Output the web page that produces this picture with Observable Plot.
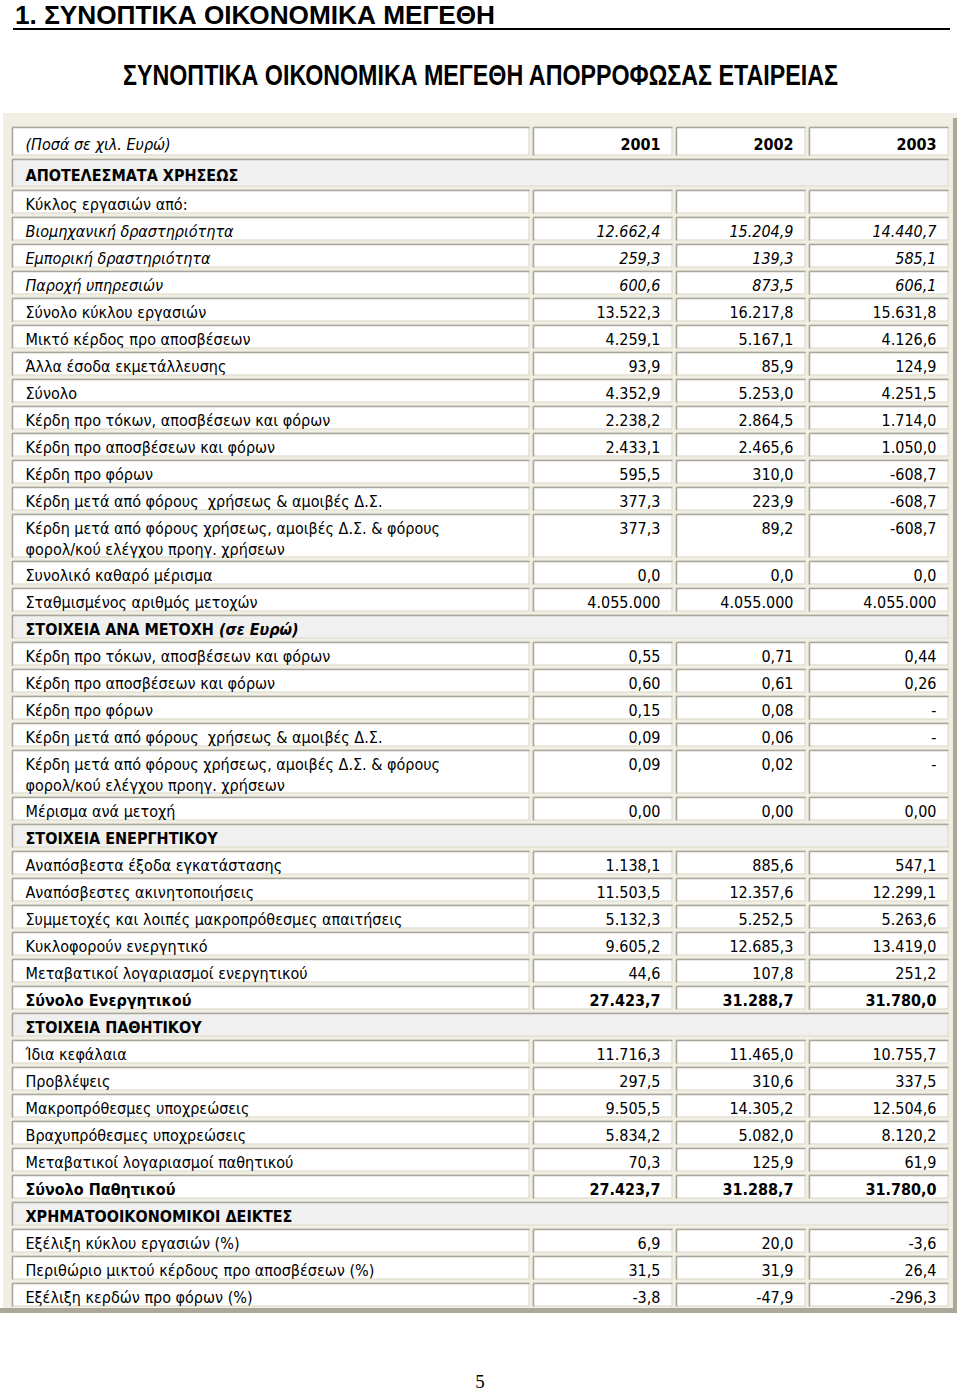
<!DOCTYPE html>
<html><head><meta charset="utf-8">
<script src="https://cdn.jsdelivr.net/npm/d3@7"></script>
<script src="https://cdn.jsdelivr.net/npm/@observablehq/plot@0.6"></script>
<style>
html,body{margin:0;padding:0;background:#fff}
body{width:960px;height:1392px;position:relative;overflow:hidden}
#title{position:absolute;left:15px;top:0px;font-family:"Liberation Sans","Arial",sans-serif;font-weight:bold;font-size:26px;line-height:30px;white-space:nowrap;color:#000;display:inline-block;transform-origin:0 0}
#rule{position:absolute;left:13px;width:937px;top:28px;height:2px;background:#000}
#subtitle{position:absolute;left:123px;top:60px;font-family:"Liberation Sans","Arial",sans-serif;font-weight:bold;font-size:30px;line-height:30px;white-space:nowrap;color:#000;display:inline-block;transform-origin:0 0}
#chart{position:absolute;left:0;top:100px}
#page{position:absolute;left:0;width:960px;text-align:center;top:1372px;font-family:"Liberation Serif",serif;font-size:19px;line-height:19px}
</style>
</head><body>
<div id="title">1. ΣΥΝΟΠΤΙΚΑ ΟΙΚΟΝΟΜΙΚΑ ΜΕΓΕΘΗ</div>
<div id="rule"></div>
<div id="subtitle">ΣΥΝΟΠΤΙΚΑ ΟΙΚΟΝΟΜΙΚΑ ΜΕΓΕΘΗ ΑΠΟΡΡΟΦΩΣΑΣ ΕΤΑΙΡΕΙΑΣ</div>
<div id="chart"></div>
<div id="page">5</div>
<script>
// ---------- data ----------
const years = ["2001", "2002", "2003"];
const labels = [
  "(Ποσά σε χιλ. Ευρώ)",
  "ΑΠΟΤΕΛΕΣΜΑΤΑ ΧΡΗΣΕΩΣ",
  "Κύκλος εργασιών από:",
  "Βιομηχανική δραστηριότητα",
  "Εμπορική δραστηριότητα",
  "Παροχή υπηρεσιών",
  "Σύνολο κύκλου εργασιών",
  "Μικτό κέρδος προ αποσβέσεων",
  "Άλλα έσοδα εκμετάλλευσης",
  "Σύνολο",
  "Κέρδη προ τόκων, αποσβέσεων και φόρων",
  "Κέρδη προ αποσβέσεων και φόρων",
  "Κέρδη προ φόρων",
  "Κέρδη μετά από φόρους\u00a0 χρήσεως & αμοιβές Δ.Σ.",
  "Κέρδη μετά από φόρους χρήσεως, αμοιβές Δ.Σ. & φόρους\nφορολ/κού ελέγχου προηγ. χρήσεων",
  "Συνολικό καθαρό μέρισμα",
  "Σταθμισμένος αριθμός μετοχών",
  "ΣΤΟΙΧΕΙΑ ΑΝΑ ΜΕΤΟΧΗ",
  "Κέρδη προ τόκων, αποσβέσεων και φόρων",
  "Κέρδη προ αποσβέσεων και φόρων",
  "Κέρδη προ φόρων",
  "Κέρδη μετά από φόρους\u00a0 χρήσεως & αμοιβές Δ.Σ.",
  "Κέρδη μετά από φόρους χρήσεως, αμοιβές Δ.Σ. & φόρους\nφορολ/κού ελέγχου προηγ. χρήσεων",
  "Μέρισμα ανά μετοχή",
  "ΣΤΟΙΧΕΙΑ ΕΝΕΡΓΗΤΙΚΟΥ",
  "Αναπόσβεστα έξοδα εγκατάστασης",
  "Αναπόσβεστες ακινητοποιήσεις",
  "Συμμετοχές και λοιπές μακροπρόθεσμες απαιτήσεις",
  "Κυκλοφορούν ενεργητικό",
  "Μεταβατικοί λογαριασμοί ενεργητικού",
  "Σύνολο Ενεργητικού",
  "ΣΤΟΙΧΕΙΑ ΠΑΘΗΤΙΚΟΥ",
  "Ίδια κεφάλαια",
  "Προβλέψεις",
  "Μακροπρόθεσμες υποχρεώσεις",
  "Βραχυπρόθεσμες υποχρεώσεις",
  "Μεταβατικοί λογαριασμοί παθητικού",
  "Σύνολο Παθητικού",
  "ΧΡΗΜΑΤΟΟΙΚΟΝΟΜΙΚΟΙ ΔΕΙΚΤΕΣ",
  "Εξέλιξη κύκλου εργασιών (%)",
  "Περιθώριο μικτού κέρδους προ αποσβέσεων (%)",
  "Εξέλιξη κερδών προ φόρων (%)"
];
const notes = labels.map((d, i) => i === 17 ? "(σε Ευρώ)" : "");
const kinds = [
  "header", "section", "plain", "italic", "italic", "italic", "plain", "plain", "plain", "plain",
  "plain", "plain", "plain", "plain", "plain", "plain", "plain", "section", "plain", "plain",
  "plain", "plain", "plain", "plain", "section", "plain", "plain", "plain", "plain", "plain",
  "total", "section", "plain", "plain", "plain", "plain", "plain", "total", "section", "plain",
  "plain", "plain"
];
const v2001 = [null, null, null, 12662.4, 259.3, 600.6, 13522.3, 4259.1, 93.9, 4352.9,
  2238.2, 2433.1, 595.5, 377.3, 377.3, 0.0, 4055000, null, 0.55, 0.60,
  0.15, 0.09, 0.09, 0.00, null, 1138.1, 11503.5, 5132.3, 9605.2, 44.6,
  27423.7, null, 11716.3, 297.5, 9505.5, 5834.2, 70.3, 27423.7, null, 6.9,
  31.5, -3.8];
const v2002 = [null, null, null, 15204.9, 139.3, 873.5, 16217.8, 5167.1, 85.9, 5253.0,
  2864.5, 2465.6, 310.0, 223.9, 89.2, 0.0, 4055000, null, 0.71, 0.61,
  0.08, 0.06, 0.02, 0.00, null, 885.6, 12357.6, 5252.5, 12685.3, 107.8,
  31288.7, null, 11465.0, 310.6, 14305.2, 5082.0, 125.9, 31288.7, null, 20.0,
  31.9, -47.9];
const v2003 = [null, null, null, 14440.7, 585.1, 606.1, 15631.8, 4126.6, 124.9, 4251.5,
  1714.0, 1050.0, -608.7, -608.7, -608.7, 0.0, 4055000, null, 0.44, 0.26,
  NaN, NaN, NaN, 0.00, null, 547.1, 12299.1, 5263.6, 13419.0, 251.2,
  31780.0, null, 10755.7, 337.5, 12504.6, 8120.2, 61.9, 31780.0, null, -3.6,
  26.4, -296.3];
const digits = labels.map((d, i) => (i >= 18 && i <= 23) ? 2 : (i === 16 ? 0 : 1));

// ---------- condensed titles ----------
function fitWidth(id, target) {
  const el = document.getElementById(id);
  const w = el.getBoundingClientRect().width;
  if (w > 0) el.style.transform = "scaleX(" + (target / w) + ")";
}
fitWidth("title", 480);
fitWidth("subtitle", 715);

// ---------- layout ----------
const locale = d3.formatLocale({decimal: ",", thousands: ".", grouping: [3], currency: ["", ""], minus: "-"});
function fmtVal(v, dg) {
  if (v === null || v === undefined) return "";
  if (Number.isNaN(v)) return "-";
  return locale.format(",." + dg + "f")(v);
}
const COLS = [[0, 517], [521, 660], [664, 793], [797, 936]];
const TABLE_W = 936;
let acc = 0;
const rows = labels.map((label, i) => {
  const lines = label.split("\n").length;
  const pitch = kinds[i] === "header" ? 32 : (i === 1 ? 31 : 7 + 20 * lines);
  const r = {i, label: notes[i] ? label + " " + notes[i] : label, kind: kinds[i], lines, top: acc, bottom: acc + pitch - 4};
  acc += pitch;
  return r;
});
const total = acc;

const cells = [];
rows.forEach(r => {
  if (r.kind === "section") cells.push({x1: 0, x2: TABLE_W, y1: r.top, y2: r.bottom, fill: "#f0f0f0"});
  else COLS.forEach(([a, b]) => cells.push({x1: a, x2: b, y1: r.top, y2: r.bottom, fill: "#ffffff"}));
});

const styleOf = (kind, isValue) =>
  kind === "header" ? (isValue ? "bold" : "italic") :
  kind === "section" || kind === "total" ? "bold" :
  kind === "italic" ? "italic" : "normal";

const labelTexts = rows.map(r => ({x: 13, y: (r.top + r.bottom) / 2, text: r.label, style: styleOf(r.kind, false)}));
const series = [v2001, v2002, v2003];
const valueTexts = [];
rows.forEach(r => {
  if (r.kind === "section") return;
  series.forEach((s, j) => {
    const t = r.kind === "header" ? years[j] : fmtVal(s[r.i], digits[r.i]);
    if (t) valueTexts.push({x: COLS[j + 1][1] - 12, y: r.lines > 1 ? r.top + 11.5 : (r.top + r.bottom) / 2, text: t, style: styleOf(r.kind, true)});
  });
});

const FONT = "'DejaVu Sans Condensed', 'DejaVu Sans', sans-serif";
const textMarks = (data, anchor) => [
  ["normal", "normal", "normal"], ["italic", "normal", "italic"], ["bold", "bold", "normal"]
].map(([st, fw, fs]) => Plot.text(data.filter(d => d.style === st), {
  x: "x", y: "y", text: "text", textAnchor: anchor, dy: 1.5, lineHeight: 1.3,
  fontSize: 16, fontWeight: fw, fontStyle: fs, fontFamily: FONT, fill: "#000"
}));

const Y0 = 27; // table start inside svg
const plot = Plot.plot({
  width: 960,
  height: 1240,
  margin: 0,
  x: {domain: [0, TABLE_W], range: [12, 948], axis: null},
  y: {domain: [0, total], range: [Y0, Y0 + total], axis: null},
  marks: [
    // frame
    Plot.rect([{x1: -9, x2: 945, y1: -14, y2: total + 3}], {x1: "x1", x2: "x2", y1: "y1", y2: "y2", fill: "#f1efe3"}),
    Plot.rect([{x1: 941, x2: 945, y1: -9, y2: total + 3}], {x1: "x1", x2: "x2", y1: "y1", y2: "y2", fill: "#aca899"}),
    Plot.rect([{x1: -12, x2: 945, y1: total - 2, y2: total + 3}], {x1: "x1", x2: "x2", y1: "y1", y2: "y2", fill: "#aca899"}),
    // cells
    Plot.rect(cells, {x1: "x1", x2: "x2", y1: "y1", y2: "y2", fill: "fill", stroke: "#e3e1d5", strokeWidth: 1.5}),
    Plot.link(cells, {x1: "x1", x2: "x2", y1: "y1", y2: "y1", stroke: "#a9a79b", strokeWidth: 1.5}),
    Plot.link(cells, {x1: "x1", x2: "x1", y1: "y1", y2: "y2", stroke: "#a9a79b", strokeWidth: 1.5}),
    ...textMarks(labelTexts, "start"),
    ...textMarks(valueTexts, "end")
  ]
});
// italic suffix within the section label
plot.querySelectorAll("text").forEach(t => {
  notes.forEach(n => {
    if (n && t.textContent.endsWith(" " + n) && t.childElementCount === 0) {
      t.textContent = t.textContent.slice(0, -n.length);
      const ts = document.createElementNS("http://www.w3.org/2000/svg", "tspan");
      ts.setAttribute("font-style", "italic");
      ts.textContent = n;
      t.appendChild(ts);
    }
  });
});
document.getElementById("chart").appendChild(plot);
</script>
</body></html>
